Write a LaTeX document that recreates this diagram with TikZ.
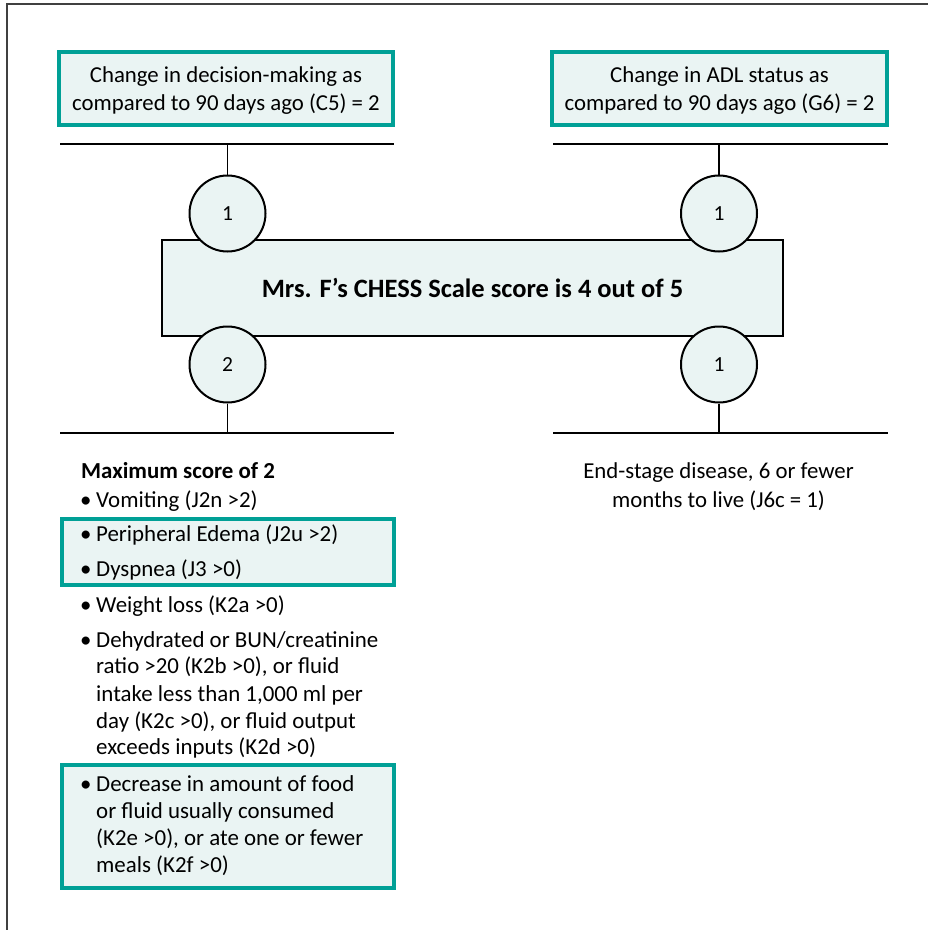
\documentclass[tikz,border=0pt]{standalone}
\usepackage{fontspec}
\setmainfont{Carlito}
\definecolor{tealedge}{RGB}{0,160,150}
\definecolor{palefill}{RGB}{234,244,243}
\tikzset{
  hlbox/.style={draw=tealedge, line width=3.5pt, fill=palefill},
  scorebox/.style={draw=black, line width=2.5pt, fill=palefill, minimum width=621pt, minimum height=96pt, inner sep=0pt,
    font=\fontsize{26.5}{30}\selectfont\bfseries},
  ptcircle/.style={circle, draw=black, line width=2pt, fill=palefill, minimum size=76pt, inner sep=0pt,
    font=\fontsize{21.5}{25}\selectfont},
  bar/.style={line width=2.5pt},
  stub/.style={line width=1.8pt},
  body/.style={font=\fontsize{22.9}{27}\selectfont, inner sep=0pt, anchor=base west},
  cbody/.style={font=\fontsize{22.8}{27}\selectfont, inner sep=0pt, anchor=base},
}
\begin{document}
\begin{tikzpicture}[x=1pt,y=-1pt]
\useasboundingbox (0,0) rectangle (928,930);
% page frame
\draw[line width=1.5pt, black!75] (7,930) -- (7,4) -- (928,4);

% top boxes
\draw[hlbox] (59,52) rectangle (393,125);
\draw[hlbox] (552,52) rectangle (887,125);
\node[cbody] (tl1) at (226,82) {Change in decision-making as};
\node[cbody] (tl2) at (226,110) {compared to 90 days ago (C5) = 2};
\node[cbody] (tr1) at (719.5,82) {Change in ADL status as};
\node[cbody] (tr2) at (719.5,110) {compared to 90 days ago (G6) = 2};

% bars
\coordinate (tlL) at (60,144);  \coordinate (tlR) at (394,144);
\coordinate (trL) at (553,144); \coordinate (trR) at (888,144);
\coordinate (blL) at (60,433);  \coordinate (blR) at (394,433);
\coordinate (brL) at (553,433); \coordinate (brR) at (888,433);
\draw[bar] (tlL) -- (tlR);
\draw[bar] (trL) -- (trR);
\draw[bar] (blL) -- (blR);
\draw[bar] (brL) -- (brR);

% central score box
\node[scorebox] (chess) at (472.5,288) {Mrs. F’s CHESS Scale score is 4 out of 5};

% point circles
\node[ptcircle] (c1) at (227.5,213.5) {1};
\node[ptcircle] (c2) at (719,213.5) {1};
\node[ptcircle] (c3) at (227.5,364.5) {2};
\node[ptcircle] (c4) at (719,364.5) {1};
\draw[stub] (c1.north) -- (c1.north |- tlL);
\draw[stub] (c2.north) -- (c2.north |- trL);
\draw[stub] (c3.south) -- (c3.south |- blL);
\draw[stub] (c4.south) -- (c4.south |- brL);

% right-hand text
\node[cbody] (es1) at (718.5,478) {End-stage disease, 6 or fewer};
\node[cbody] (es2) at (718.5,507) {months to live (J6c = 1)};

% highlighted items
\draw[hlbox] (62,519) rectangle (394,585);
\draw[hlbox] (62,765) rectangle (394,888);

% list
\node[body, font=\fontsize{22.9}{27}\selectfont\bfseries] (head) at (81,478) {Maximum score of 2};
\foreach \n/\y in {b1/507,b2/541,b3/576,b4/612,b5/647,b6/791}
  \node[body] (\n) at (80,\y) {•};
\node[body] (i1) at (96,507) {Vomiting (J2n >2)};
\node[body] (i2) at (96,541) {Peripheral Edema (J2u >2)};
\node[body] (i3) at (96,576) {Dyspnea (J3 >0)};
\node[body] (i4) at (96,612) {Weight loss (K2a >0)};
\node[body] (i5a) at (96,647) {Dehydrated or BUN/creatinine};
\node[body] (i5b) at (96,673) {ratio >20 (K2b >0), or fluid};
\node[body] (i5c) at (96,701) {intake less than 1,000 ml per};
\node[body] (i5d) at (96,728) {day (K2c >0), or fluid output};
\node[body] (i5e) at (96,754) {exceeds inputs (K2d >0)};
\node[body] (i6a) at (96,791) {Decrease in amount of food};
\node[body] (i6b) at (96,818) {or fluid usually consumed};
\node[body] (i6c) at (96,845) {(K2e >0), or ate one or fewer};
\node[body] (i6d) at (96,872) {meals (K2f >0)};
\end{tikzpicture}
\end{document}
